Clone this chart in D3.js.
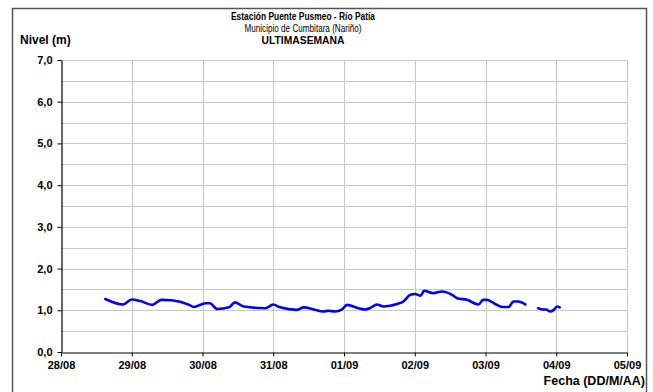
<!DOCTYPE html>
<html>
<head>
<meta charset="utf-8">
<script src="https://cdn.jsdelivr.net/npm/d3@7"></script>
<style>
  body { margin: 0; background: #fff; }
  svg { display: block; font-family: "Liberation Sans", Arial, sans-serif; }
</style>
</head>
<body>
<svg id="chart" width="653" height="392"></svg>
<script>
const titleLines = ["Estación Puente Pusmeo - Río Patía", "Municipio de Cumbitara (Nariño)", "ULTIMASEMANA"];
const xTicks = ["2023-08-28", "2023-08-29", "2023-08-30", "2023-08-31", "2023-09-01", "2023-09-02", "2023-09-03", "2023-09-04", "2023-09-05"];
const yTicks = [0, 1, 2, 3, 4, 5, 6, 7];
const yGridTicks = [0.5, 1, 1.5, 2, 2.5, 3, 3.5, 4, 4.5, 5, 5.5, 6, 6.5, 7];

// nivel (m); null = sin dato
const times = [
  "2023-08-28T15:00", "2023-08-28T21:00", "2023-08-29T00:00", "2023-08-29T03:00",
  "2023-08-29T07:00", "2023-08-29T10:00", "2023-08-29T13:30", "2023-08-29T19:30",
  "2023-08-29T21:00", "2023-08-30T01:00", "2023-08-30T02:30", "2023-08-30T05:00",
  "2023-08-30T09:00", "2023-08-30T11:00", "2023-08-30T14:00", "2023-08-30T21:20",
  "2023-08-31T00:00", "2023-08-31T02:20", "2023-08-31T08:00", "2023-08-31T10:20",
  "2023-08-31T13:40", "2023-08-31T17:00", "2023-08-31T18:40", "2023-08-31T21:00",
  "2023-08-31T23:20", "2023-09-01T01:00", "2023-09-01T05:00", "2023-09-01T07:10",
  "2023-09-01T09:00", "2023-09-01T11:10", "2023-09-01T13:30", "2023-09-01T15:40",
  "2023-09-01T18:00", "2023-09-01T20:10", "2023-09-01T22:30", "2023-09-02T00:10",
  "2023-09-02T02:00", "2023-09-02T03:10", "2023-09-02T06:20", "2023-09-02T09:10",
  "2023-09-02T12:40", "2023-09-02T14:20", "2023-09-02T17:40", "2023-09-02T21:40",
  "2023-09-02T23:10", "2023-09-03T00:30", "2023-09-03T03:20", "2023-09-03T05:40",
  "2023-09-03T07:50", "2023-09-03T09:30", "2023-09-03T11:10", "2023-09-03T13:30",
  "2023-09-03T15:40",
  "2023-09-03T17:50", "2023-09-03T19:10", "2023-09-03T20:30", "2023-09-03T22:00",
  "2023-09-03T23:10", "2023-09-04T00:20", "2023-09-04T01:10"
];
const levels = [
  1.27, 1.14, 1.26, 1.22,
  1.13, 1.25, 1.24, 1.13,
  1.08, 1.17, 1.17, 1.03,
  1.07, 1.19, 1.09, 1.05,
  1.14, 1.07, 1.01, 1.07,
  1.02, 0.97, 0.99, 0.97,
  1.02, 1.13, 1.05, 1.02,
  1.06, 1.14, 1.09, 1.11,
  1.15, 1.21, 1.37, 1.39,
  1.35, 1.47, 1.41, 1.45,
  1.37, 1.29, 1.25, 1.14,
  1.25, 1.25, 1.15, 1.08,
  1.08, 1.21, 1.21, 1.14,
  null,
  1.05, 1.02, 1.02, 0.97,
  1.01, 1.09, 1.07
];

const svg = d3.select("#chart");
const parse = d3.timeParse("%Y-%m-%dT%H:%M");
const parseDay = d3.timeParse("%Y-%m-%d");
const margin = { top: 60, left: 61, right: 627, bottom: 352 };

const x = d3.scaleTime()
  .domain([parseDay(xTicks[0]), parseDay(xTicks[xTicks.length - 1])])
  .range([margin.left, margin.right]);
const y = d3.scaleLinear().domain([0, 7]).range([margin.bottom, margin.top]);

// outer frame
svg.append("rect")
  .attr("x", 12.5).attr("y", 8.5).attr("width", 634).attr("height", 395)
  .attr("fill", "none").attr("stroke", "#555").attr("stroke-width", 1.5);

// grid
const gridG = svg.append("g");
gridG.selectAll("line.h").data(yGridTicks).join("line")
  .attr("x1", margin.left).attr("x2", margin.right)
  .attr("y1", d => Math.round(y(d)) + 0.5).attr("y2", d => Math.round(y(d)) + 0.5)
  .attr("stroke", "#c8c8c8").attr("stroke-width", 1);
gridG.selectAll("line.v").data(xTicks.slice(1)).join("line")
  .attr("x1", d => Math.round(x(parseDay(d))) + 0.5).attr("x2", d => Math.round(x(parseDay(d))) + 0.5)
  .attr("y1", margin.top).attr("y2", margin.bottom)
  .attr("stroke", "#c8c8c8").attr("stroke-width", 1);

// axes
const fmtNum = d => d.toFixed(1).replace(".", ",");
const yAxis = svg.append("g")
  .attr("transform", `translate(${margin.left + 0.5},0)`)
  .call(d3.axisLeft(y).tickValues(yTicks).tickSize(4).tickSizeOuter(0).tickPadding(5).tickFormat(fmtNum));
const xAxis = svg.append("g")
  .attr("transform", `translate(0,${margin.bottom + 0.5})`)
  .call(d3.axisBottom(x).tickValues(xTicks.map(parseDay)).tickSize(4).tickSizeOuter(0).tickPadding(5)
    .tickFormat(d3.timeFormat("%d/%m")));
[yAxis, xAxis].forEach(g => {
  g.select(".domain").attr("stroke", "#000").attr("stroke-width", 1.2);
  g.selectAll(".tick line").attr("stroke", "#000");
  g.selectAll(".tick text")
    .attr("fill", "#000").attr("font-size", 11).attr("font-weight", "bold")
    .attr("font-family", "'Liberation Sans', Arial, sans-serif");
});

// series
const data = times.map((t, i) => ({ t: parse(t), v: levels[i] }));
const line = d3.line()
  .defined(d => d.v !== null)
  .x(d => x(d.t))
  .y(d => y(d.v))
  .curve(d3.curveMonotoneX);
svg.append("path")
  .datum(data)
  .attr("d", line)
  .attr("fill", "none")
  .attr("stroke", "#0000ff")
  .attr("stroke-width", 2.6)
  .attr("stroke-linejoin", "round")
  .attr("stroke-linecap", "round");

// titles (squeezed like the original export)
const titleWidths = [144, 117, 83];
const titleG = svg.append("g").attr("text-anchor", "middle").attr("font-size", 11).attr("fill", "#000");
titleLines.forEach((t, i) => {
  titleG.append("text")
    .attr("x", 303).attr("y", 20 + i * 12)
    .attr("font-weight", i === 1 ? "normal" : "bold")
    .attr("textLength", titleWidths[i])
    .attr("lengthAdjust", "spacingAndGlyphs")
    .text(t);
});

svg.append("text")
  .attr("x", 20).attr("y", 44)
  .attr("font-size", 12).attr("font-weight", "bold")
  .text("Nivel (m)");

svg.append("text")
  .attr("x", 645).attr("y", 385)
  .attr("text-anchor", "end")
  .attr("font-size", 12.5).attr("font-weight", "bold")
  .text("Fecha (DD/M/AA)");
</script>
</body>
</html>
